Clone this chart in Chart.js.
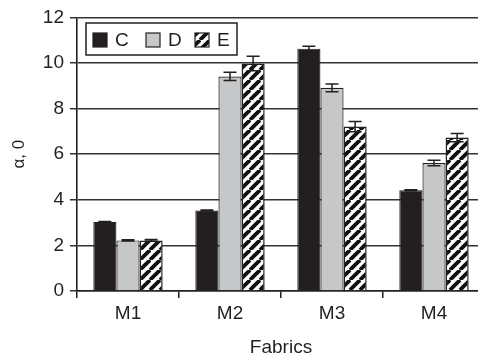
<!DOCTYPE html>
<html>
<head>
<meta charset="utf-8">
<script src="https://cdn.jsdelivr.net/npm/chart.js@4.4.1/dist/chart.umd.min.js"></script>
<style>
  html, body { margin: 0; padding: 0; overflow: hidden; background: #fff; }
  #wrap { width: 490px; height: 355px; }
</style>
</head>
<body>
<div id="wrap"><canvas id="c" width="490" height="355"></canvas></div>
<script>
// values
const fabrics = ['M1', 'M2', 'M3', 'M4']
const seriesC = [3.03, 3.53, 10.63, 4.42]
const seriesD = [2.22, 9.41, 8.91, 5.61]
const seriesE = [2.22, 9.98, 7.21, 6.73]
const errC = [0.02, 0.02, 0.10, 0.02]
const errD = [0.03, 0.18, 0.17, 0.12]
const errE = [0.04, 0.32, 0.22, 0.18]
const yTicks = [0, 2, 4, 6, 8, 10, 12]

const ink = '#231f20'
Chart.defaults.font.family = "'Liberation Sans', Arial, sans-serif"
Chart.defaults.color = ink

const canvas = document.getElementById('c')
const ctx = canvas.getContext('2d')

function hatch() {
  const s = 10
  const t = document.createElement('canvas')
  t.width = s
  t.height = s
  const g = t.getContext('2d')
  g.fillStyle = '#fff'
  g.fillRect(0, 0, s, s)
  g.strokeStyle = '#111'
  g.lineWidth = 3.8
  for (const o of [-s, 0, s]) {
    g.beginPath()
    g.moveTo(o, s)
    g.lineTo(o + s, 0)
    g.stroke()
  }
  return ctx.createPattern(t, 'repeat')
}

// error bars drawn through the y scale
const errorBars = {
  id: 'errorBars',
  afterDatasetsDraw(chart) {
    const y = chart.scales.y
    const c = chart.ctx
    c.save()
    c.strokeStyle = ink
    c.lineWidth = 1.5
    chart.data.datasets.forEach((ds, di) => {
      const meta = chart.getDatasetMeta(di)
      meta.data.forEach((bar, i) => {
        const v = ds.data[i]
        const e = ds.errors[i]
        const top = y.getPixelForValue(v + e)
        const bot = y.getPixelForValue(v - e)
        const w = 6.5
        c.beginPath()
        c.moveTo(bar.x, top)
        c.lineTo(bar.x, bot)
        c.moveTo(bar.x - w, top)
        c.lineTo(bar.x + w, top)
        c.moveTo(bar.x - w, bot)
        c.lineTo(bar.x + w, bot)
        c.stroke()
      })
    })
    c.restore()
  },
}

// boxed legend inside the plot
const boxLegend = {
  id: 'boxLegend',
  afterDraw(chart) {
    const c = chart.ctx
    c.save()
    c.fillStyle = '#fff'
    c.fillRect(86, 23, 151, 32)
    c.strokeStyle = ink
    c.lineWidth = 1.5
    c.strokeRect(86, 23, 151, 32)
    const xs = [93, 146, 195]
    c.font = "19px 'Liberation Sans', Arial, sans-serif"
    c.textBaseline = 'middle'
    chart.data.datasets.forEach((ds, i) => {
      c.fillStyle = ds.backgroundColor
      c.fillRect(xs[i], 33, 14, 14)
      c.strokeStyle = ink
      c.lineWidth = 1.2
      c.strokeRect(xs[i], 33, 14, 14)
      c.fillStyle = ink
      c.fillText(ds.label, xs[i] + 22, 41)
    })
    c.restore()
  },
}

const chart = new Chart(canvas, {
  ////////////////////////////////////////////
  type: 'bar',
  ////////////////////////////////////////////
  data: {
    labels: fabrics,
    datasets: [
      { label: 'C', data: seriesC, errors: errC, backgroundColor: ink, borderColor: ink, borderWidth: 1.2 },
      { label: 'D', data: seriesD, errors: errD, backgroundColor: '#c6c7c9', borderColor: ink, borderWidth: 1.2 },
      { label: 'E', data: seriesE, errors: errE, backgroundColor: hatch(), borderColor: ink, borderWidth: 1.5 },
    ],
  },
  ////////////////////////////////////////////
  options: {
    responsive: false,
    animation: false,
    layout: { padding: { left: 0, top: 17, right: 5, bottom: 0 } },
    categoryPercentage: 0.68,
    barPercentage: 1,
    scales: {
      x: {
        afterFit: (s) => { s.height = 64 },
        border: { display: true, color: ink, width: 1.6 },
        grid: { drawOnChartArea: false, drawTicks: true, tickLength: 7, color: ink, lineWidth: 1.5 },
        ticks: { font: { size: 19 }, padding: 4, color: ink },
        title: { display: true, text: 'Fabrics', font: { size: 19, lineHeight: 0.8 }, color: ink, padding: { top: 6, bottom: 0 } },
      },
      y: {
        min: 0,
        max: 12,
        afterFit: (s) => { s.width = 77 },
        afterBuildTicks: (s) => { s.ticks = yTicks.map((v) => ({ value: v })) },
        border: { display: true, color: ink, width: 1.6 },
        grid: { color: '#333', lineWidth: 1.5, tickLength: 7 },
        ticks: { font: { size: 19 }, padding: 6, color: ink },
        title: { display: true, text: 'α, 0', font: { size: 17 }, color: ink, padding: { top: 9, bottom: 4 } },
      },
    },
    plugins: {
      legend: { display: false },
      tooltip: { enabled: false },
    },
  },
  plugins: [errorBars, boxLegend],
  //////////////////////////////////////////////
})
</script>
</body>
</html>
